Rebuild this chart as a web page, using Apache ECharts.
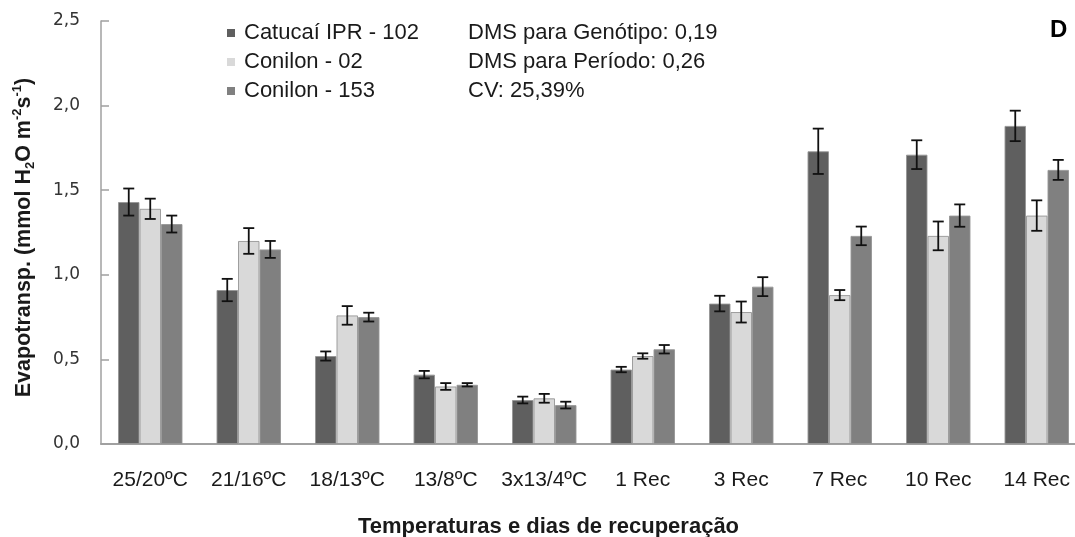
<!DOCTYPE html>
<html>
<head>
<meta charset="utf-8">
<script src="https://cdn.jsdelivr.net/npm/echarts@6/dist/echarts.min.js"></script>
<style>
  html, body { margin: 0; padding: 0; background: #ffffff; }
  #chart { width: 1075px; height: 537px; }
</style>
</head>
<body>
<div id="chart"></div>
<script>
// Periods: cold-temperature steps, then days of recovery
const categories = ['25/20ºC', '21/16ºC', '18/13ºC', '13/8ºC', '3x13/4ºC', '1 Rec', '3 Rec', '7 Rec', '10 Rec', '14 Rec'];

// Mean evapotranspiration per genotype (mmol H2O m-2 s-1)
const catucai102 = [1.43, 0.91, 0.52, 0.41, 0.26, 0.44, 0.83, 1.73, 1.71, 1.88];
const conilon02  = [1.39, 1.20, 0.76, 0.34, 0.27, 0.52, 0.78, 0.88, 1.23, 1.35];
const conilon153 = [1.30, 1.15, 0.75, 0.35, 0.23, 0.56, 0.93, 1.23, 1.35, 1.62];

// Standard error of each mean
const errCatucai102 = [0.08, 0.066, 0.027, 0.022, 0.02, 0.016, 0.046, 0.134, 0.085, 0.09];
const errConilon02  = [0.06, 0.076, 0.055, 0.02, 0.026, 0.016, 0.062, 0.03, 0.085, 0.09];
const errConilon153 = [0.05, 0.05, 0.026, 0.01, 0.02, 0.025, 0.056, 0.055, 0.066, 0.059];

const seriesNames = ['Catucaí IPR - 102', 'Conilon - 02', 'Conilon - 153'];
const yTicks = ['0,0', '0,5', '1,0', '1,5', '2,0', '2,5'];
const notes = ['DMS para Genótipo: 0,19', 'DMS para Período: 0,26', 'CV: 25,39%'];

const colors = ['#5f5f5f', '#d9d9d9', '#808080'];
const BAR_W = 21.5;
const SANS = '"Liberation Sans", Arial, sans-serif';

const means = [catucai102, conilon02, conilon153];
const errs = [errCatucai102, errConilon02, errConilon153];

const chart = echarts.init(document.getElementById('chart'), null, { renderer: 'canvas' });

const barSeries = seriesNames.map((name, i) => ({
  name: name,
  type: 'bar',
  data: means[i],
  barWidth: BAR_W,
  barGap: '0%',
  itemStyle: { color: colors[i], borderColor: 'rgba(150,150,150,0.9)', borderWidth: 1 },
  z: 2
}));

// Error bars drawn over each bar, shifted to the bar's slot within the group
const errSeries = seriesNames.map((name, i) => ({
  name: name + ' erro',
  type: 'custom',
  z: 5,
  silent: true,
  legendHoverLink: false,
  data: means[i].map((v, k) => [k, v - errs[i][k], v + errs[i][k]]),
  renderItem: function (params, api) {
    const k = api.value(0);
    const lo = api.coord([k, api.value(1)]);
    const hi = api.coord([k, api.value(2)]);
    const x = lo[0] + (i - 1) * BAR_W;
    const cap = 5.5;
    const st = { stroke: '#111111', lineWidth: 1.8 };
    return {
      type: 'group',
      children: [
        { type: 'line', shape: { x1: x, y1: lo[1], x2: x, y2: hi[1] }, style: st },
        { type: 'line', shape: { x1: x - cap, y1: hi[1], x2: x + cap, y2: hi[1] }, style: st },
        { type: 'line', shape: { x1: x - cap, y1: lo[1], x2: x + cap, y2: lo[1] }, style: st }
      ]
    };
  }
}));

const option = {
  animation: false,
  backgroundColor: '#ffffff',
  color: colors,
  grid: { left: 101, top: 21, width: 985, height: 423, containLabel: false, outerBoundsMode: 'none' },
  legend: {
    data: seriesNames,
    orient: 'vertical',
    left: 227,
    top: 21,
    padding: 0,
    itemGap: 5,
    itemWidth: 8,
    itemHeight: 8,
    icon: 'rect',
    selectedMode: false,
    itemStyle: { borderWidth: 0 },
    textStyle: { fontFamily: SANS, fontSize: 22, color: '#1a1a1a', lineHeight: 24, padding: [0, 0, 0, 4] }
  },
  xAxis: {
    type: 'category',
    data: categories,
    axisLine: { lineStyle: { color: '#a0a0a0', width: 2 } },
    axisTick: { show: false },
    axisLabel: { interval: 0, fontFamily: SANS, fontSize: 21, color: '#1a1a1a', margin: 26 },
    name: 'Temperaturas e dias de recuperação',
    nameLocation: 'middle',
    nameGap: 72,
    nameTextStyle: { fontFamily: SANS, fontWeight: 'bold', fontSize: 22, color: '#1a1a1a', padding: [0, 90, 0, 0] }
  },
  yAxis: {
    type: 'value',
    min: 0,
    max: 2.5,
    interval: 0.5,
    axisLine: { show: true, lineStyle: { color: '#a0a0a0', width: 1.5 } },
    axisTick: { show: true, inside: true, length: 8, lineStyle: { color: '#a0a0a0', width: 1.5 } },
    splitLine: { show: false },
    axisLabel: {
      fontFamily: '"DejaVu Sans", Verdana, sans-serif',
      fontSize: 17,
      color: '#333333',
      margin: 21,
      formatter: function (v) { return yTicks[Math.round(v / 0.5)]; }
    },
    name: '{b|Evapotransp. (mmol H}{sub|2}{b|O m}{sup|-2}{b|s}{sup|-1}{b|)}',
    nameLocation: 'middle',
    nameRotate: 90,
    nameGap: 64,
    nameTextStyle: {
      padding: [0, 10, 0, 0],
      rich: {
        b: { fontFamily: SANS, fontWeight: 'bold', fontSize: 21.5, color: '#1a1a1a', lineHeight: 26 },
        sub: { fontFamily: SANS, fontWeight: 'bold', fontSize: 13, color: '#1a1a1a', verticalAlign: 'bottom', lineHeight: 26 },
        sup: { fontFamily: SANS, fontWeight: 'bold', fontSize: 13, color: '#1a1a1a', verticalAlign: 'top', lineHeight: 26 }
      }
    }
  },
  graphic: [
    ...notes.map((t, i) => ({
      type: 'text',
      left: 468,
      top: 21 + i * 29,
      style: { text: t, fontFamily: SANS, fontSize: 22, fill: '#1a1a1a', lineHeight: 24 }
    })),
    {
      type: 'text',
      left: 1050,
      top: 18,
      style: { text: 'D', fontFamily: SANS, fontWeight: 'bold', fontSize: 24, fill: '#000000' }
    }
  ],
  series: [...barSeries, ...errSeries]
};

chart.setOption(option);
</script>
</body>
</html>
